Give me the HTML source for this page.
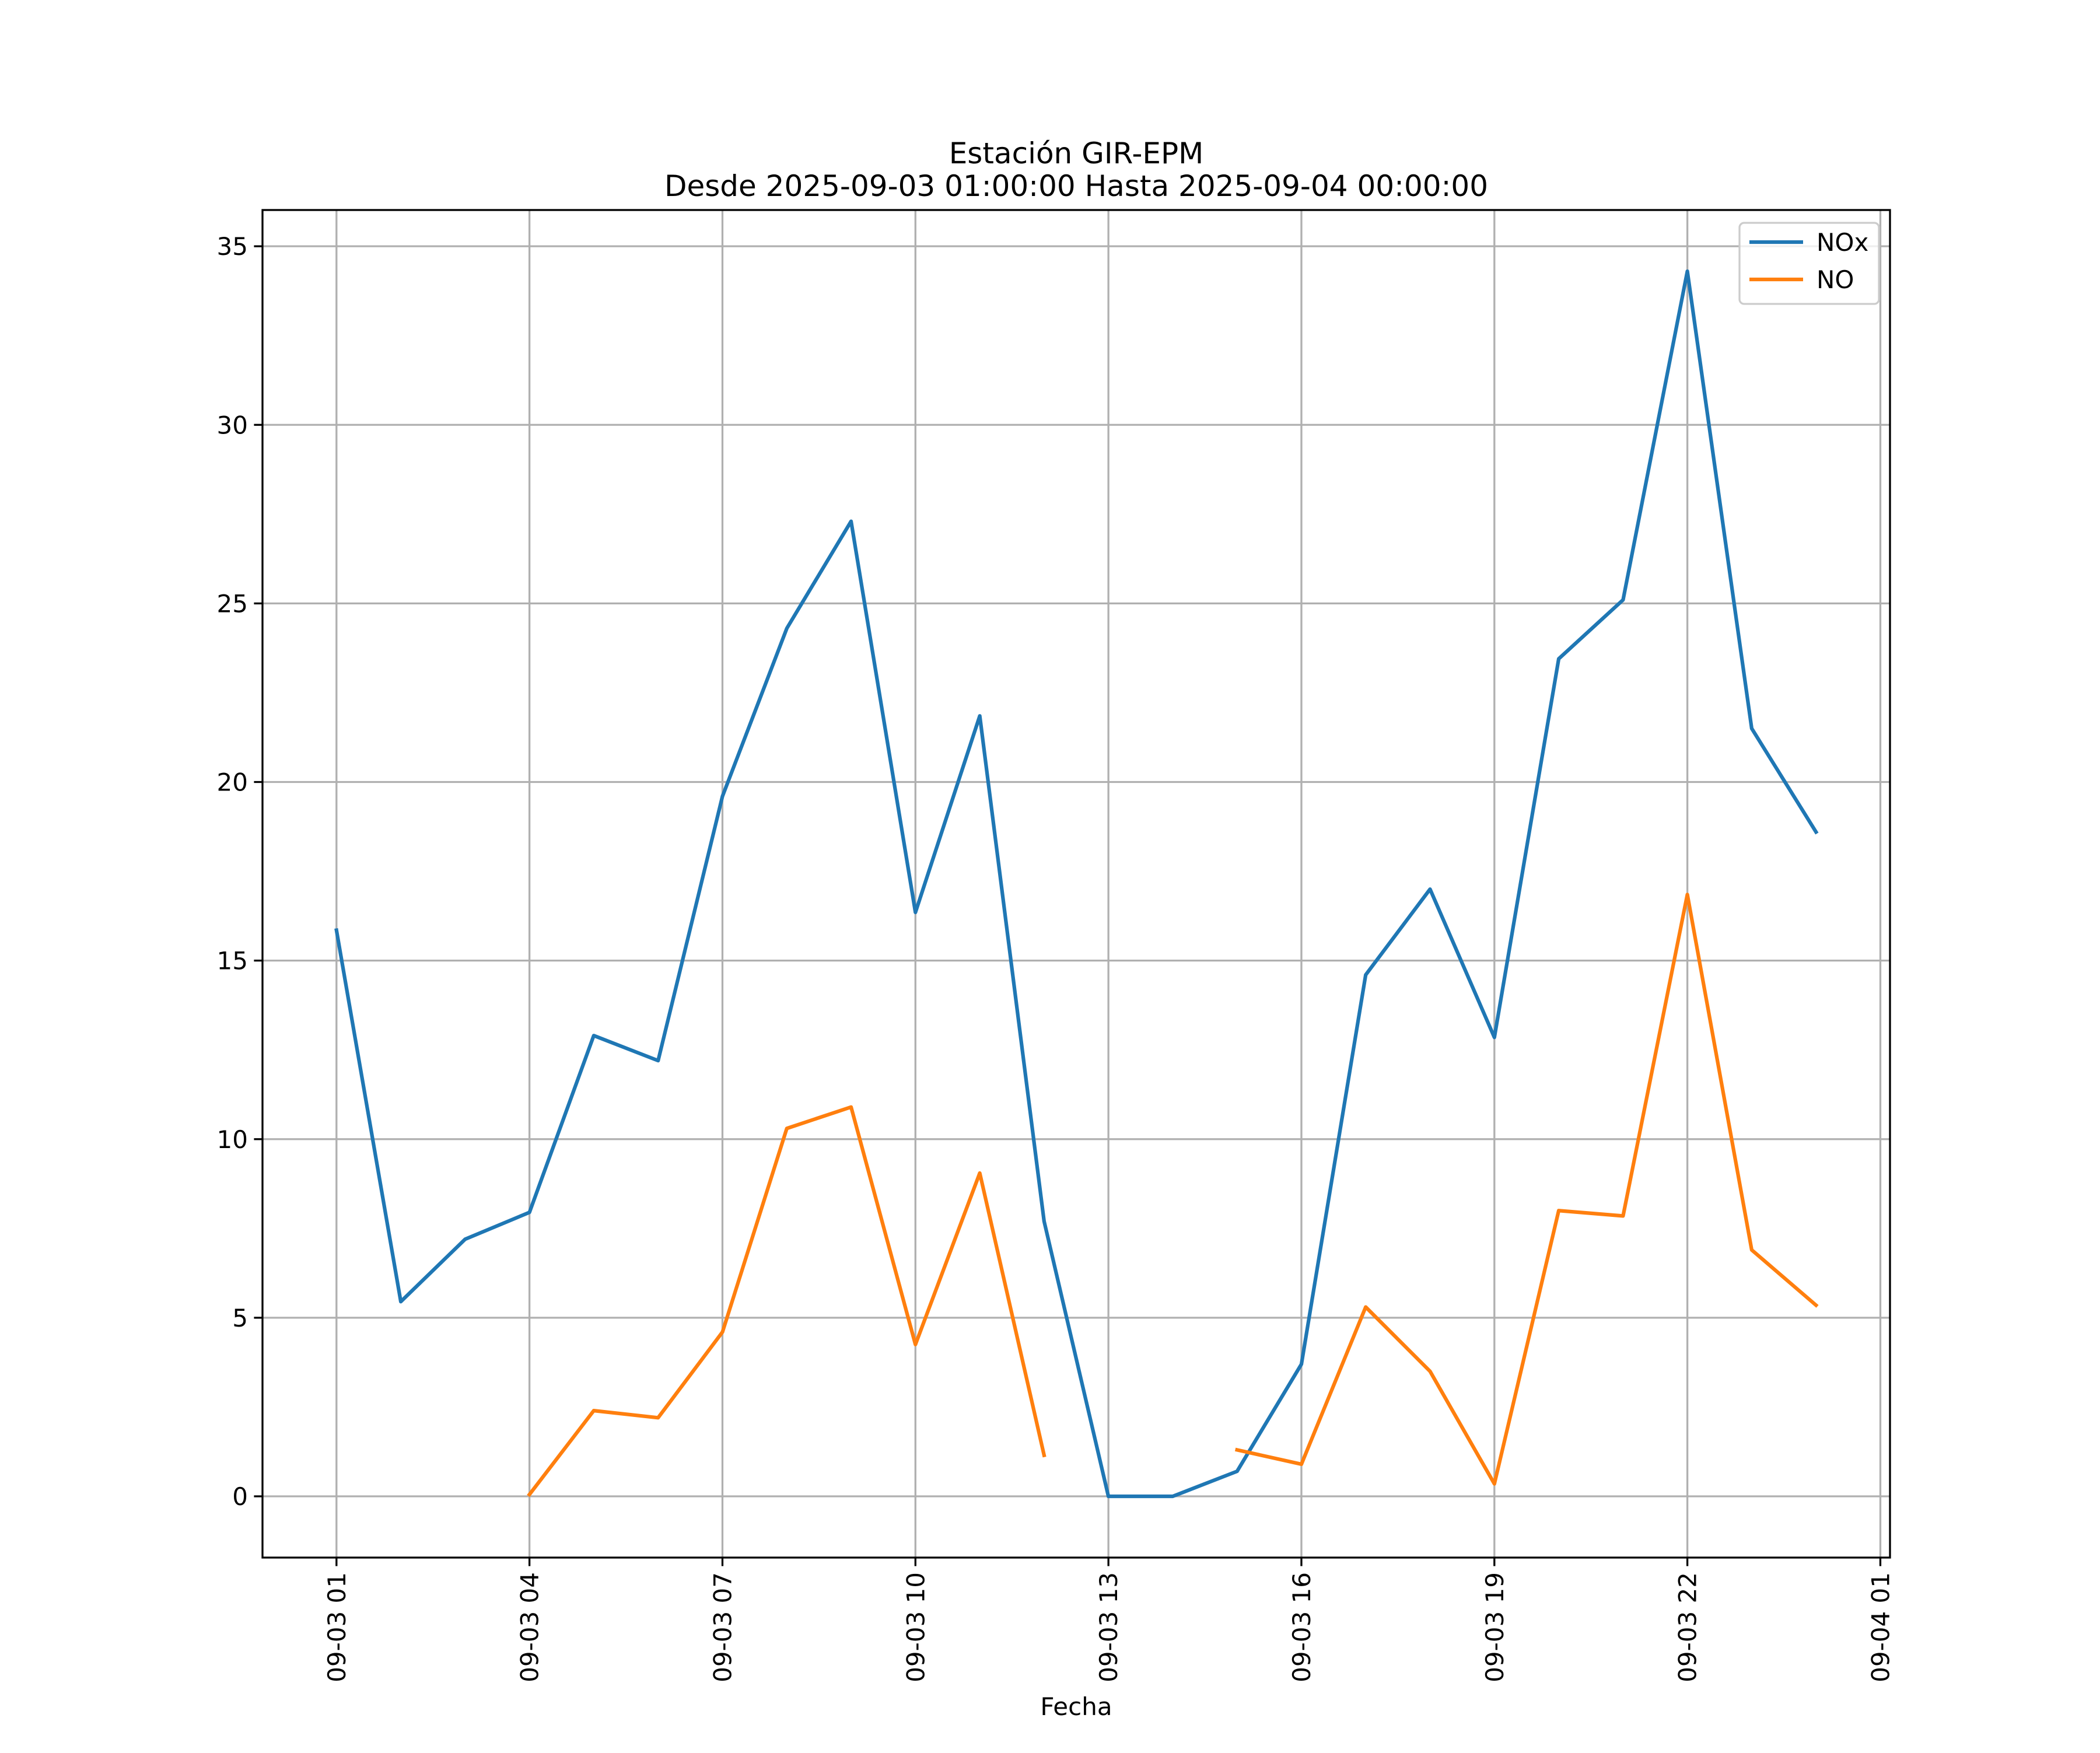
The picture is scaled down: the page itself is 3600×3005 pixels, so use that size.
<!DOCTYPE html>
<html><head><meta charset="utf-8"><style>
html,body{margin:0;padding:0;background:#fff;}
svg text{font-family:"DejaVu Sans","Liberation Sans",sans-serif;fill:#000;}
</style></head><body>
<svg id="chart" width="3600" height="3000" viewBox="0 0 3600 3000" xmlns="http://www.w3.org/2000/svg">
<rect width="3600" height="3000" fill="#fff"/>
<text x="1845" y="280" font-size="50" text-anchor="middle">Estación GIR-EPM</text>
<text x="1845" y="336" font-size="50" text-anchor="middle">Desde 2025-09-03 01:00:00 Hasta 2025-09-04 00:00:00</text>
<g id="grid"></g>
<g id="series"></g>
<rect x="450" y="360" width="2790" height="2310" fill="none" stroke="#000" stroke-width="3.3"/>
<g id="axes"></g>
<text x="1845" y="2940" font-size="42" text-anchor="middle">Fecha</text>
<g transform="translate(-9,0)">
<rect x="2991" y="382" width="239" height="139" rx="8" fill="#fff" fill-opacity="0.8" stroke="#ccc" stroke-width="3.3"/>
<g><line x1="3008" y1="415" x2="3100" y2="415" stroke="#1f77b4" stroke-width="6.25"/><text x="3123" y="430" font-size="42">NOx</text></g>
<g><line x1="3008" y1="479" x2="3100" y2="479" stroke="#ff7f0e" stroke-width="6.25"/><text x="3123" y="494" font-size="42">NO</text></g>
</g>
</svg>
<script>
const hours=[1,2,3,4,5,6,7,8,9,10,11,12,13,14,15,16,17,18,19,20,21,22,23,24];
const noxValues=[15.85,5.45,7.2,7.95,12.9,12.2,19.6,24.3,27.3,16.35,21.85,7.7,0,0,0.7,3.7,14.6,17.0,12.85,23.45,25.1,34.3,21.5,18.6];
const noValues=[null,null,null,0.05,2.4,2.2,4.6,10.3,10.9,4.25,9.05,1.15,null,null,1.3,0.9,5.3,3.5,0.35,8.0,7.85,16.85,6.9,5.35];
const yTicks=[0,5,10,15,20,25,30,35];
const xTickHours=[1,4,7,10,13,16,19,22,25];
const xTickLabels=["09-03 01","09-03 04","09-03 07","09-03 10","09-03 13","09-03 16","09-03 19","09-03 22","09-04 01"];
const NS="http://www.w3.org/2000/svg";
const L=450,R=3240,T=360,B=2670;
const xmin=1-1.15,xmax=24+1.15,ymin=-1.715,ymax=36.015;
const X=h=>L+(h-xmin)/(xmax-xmin)*(R-L);
const Y=v=>B-(v-ymin)/(ymax-ymin)*(B-T);
function mk(tag,attrs,parent){const e=document.createElementNS(NS,tag);for(const k in attrs)e.setAttribute(k,attrs[k]);parent.appendChild(e);return e;}
const grid=document.getElementById('grid'),axes=document.getElementById('axes'),series=document.getElementById('series');
yTicks.forEach(v=>{
  const g=mk('line',{x1:L,x2:R,y1:Y(v),y2:Y(v),stroke:'#b0b0b0','stroke-width':3.3},grid);
  
  
  const t=mk('line',{x1:L-14.6,x2:L,y1:Y(v),y2:Y(v),stroke:'#000','stroke-width':3.3},axes);
  
  
  const tx=mk('text',{x:L-25,y:Y(v)+15,'font-size':42,'text-anchor':'end'},axes);
  tx.textContent=v;
  
  
});
xTickHours.forEach((h,i)=>{
  const x=X(h);
  const g=mk('line',{x1:x,x2:x,y1:T,y2:B,stroke:'#b0b0b0','stroke-width':3.3},grid);
  
  
  const t=mk('line',{x1:x,x2:x,y1:B,y2:B+14.6,stroke:'#000','stroke-width':3.3},axes);
  
  
  const tx=mk('text',{x:0,y:0,'font-size':42,'text-anchor':'end',transform:`translate(${x+15},${B+25}) rotate(-90)`},axes);
  tx.textContent=xTickLabels[i];
  
  
});
function drawSeries(vals,color,name){
  let segs=[],cur=[];
  vals.forEach((v,i)=>{if(v===null){if(cur.length)segs.push(cur);cur=[];}else cur.push(X(hours[i]).toFixed(1)+','+Y(v).toFixed(1));});
  if(cur.length)segs.push(cur);
  segs.forEach(s=>{
    const p=mk('polyline',{points:s.join(' '),fill:'none',stroke:color,'stroke-width':6.25,'stroke-linejoin':'round','stroke-linecap':'square'},series);
    
    
  });
}
drawSeries(noxValues,'#1f77b4','nox-line');
drawSeries(noValues,'#ff7f0e','no-line');
</script>
</body></html>
